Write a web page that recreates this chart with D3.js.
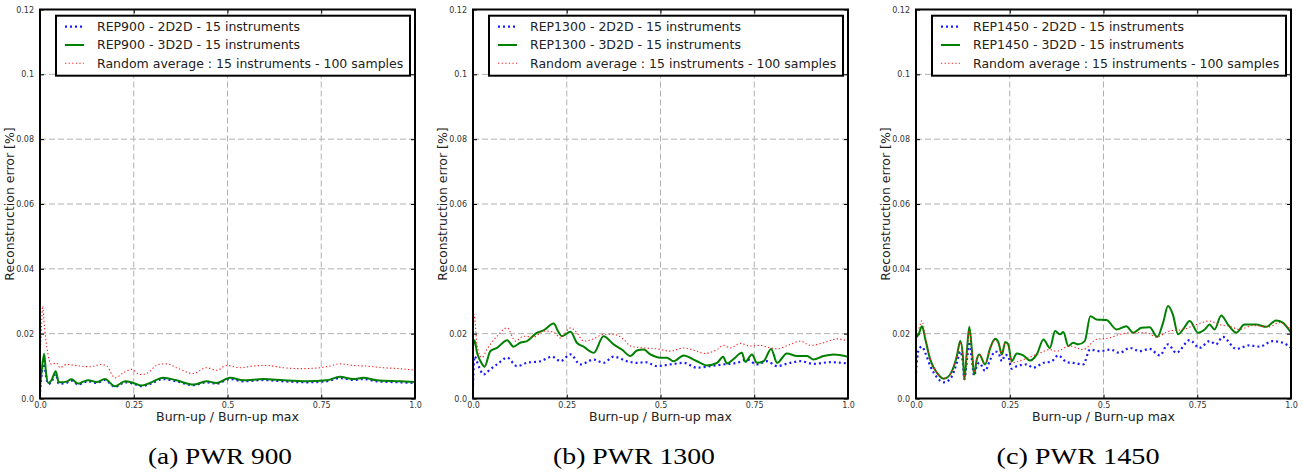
<!DOCTYPE html>
<html><head><meta charset="utf-8">
<script src="https://cdn.jsdelivr.net/npm/d3@7"></script>
<style>
html,body{margin:0;padding:0;background:#fff;}
svg{display:block;}
</style></head>
<body>
<svg id="chart" width="1303" height="475"></svg>
<script>
// ---------------- DATA ----------------
const xTicks = [0, 0.25, 0.5, 0.75, 1.0];
const xTickLabels = ["0.0", "0.25", "0.5", "0.75", "1.0"];
const yTicks = [0, 0.02, 0.04, 0.06, 0.08, 0.1, 0.12];
const yTickLabels = ["0.0", "0.02", "0.04", "0.06", "0.08", "0.1", "0.12"];
const reactors = ["REP900", "REP1300", "REP1450"];
const captions = ["(a) PWR 900", "(b) PWR 1300", "(c) PWR 1450"];
const seriesSuffix = [" - 2D2D - 15 instruments", " - 3D2D - 15 instruments"];
const randomLabel = "Random average : 15 instruments - 100 samples";
const xAxisLabel = "Burn-up / Burn-up max";
const yAxisLabel = "Reconstruction error [%]";

// [burn-up fraction, error]
const rep900_2d2d = [[0,0.002],[0.005,0.008],[0.011,0.0115],[0.016,0.007],[0.022,0.0045],[0.03,0.005],[0.042,0.0075],[0.05,0.0046],[0.058,0.0046],[0.07,0.0048],[0.084,0.0055],[0.102,0.0043],[0.115,0.0049],[0.129,0.0053],[0.151,0.0048],[0.173,0.0057],[0.2,0.0036],[0.227,0.005],[0.249,0.0046],[0.271,0.0038],[0.293,0.0045],[0.329,0.006],[0.364,0.0053],[0.409,0.0041],[0.444,0.005],[0.471,0.0046],[0.507,0.006],[0.542,0.0053],[0.596,0.0057],[0.649,0.0053],[0.711,0.005],[0.764,0.0053],[0.8,0.0063],[0.836,0.0057],[0.862,0.006],[0.898,0.0053],[0.96,0.005],[1,0.0048]];
const rep900_3d2d = [[0,0.004],[0.005,0.009],[0.011,0.0138],[0.016,0.008],[0.022,0.0048],[0.03,0.0055],[0.042,0.0084],[0.05,0.005],[0.058,0.005],[0.07,0.0052],[0.084,0.0059],[0.102,0.0046],[0.115,0.0052],[0.129,0.0056],[0.151,0.0051],[0.173,0.006],[0.2,0.0038],[0.227,0.0053],[0.249,0.0048],[0.271,0.004],[0.293,0.0048],[0.329,0.0064],[0.364,0.0056],[0.409,0.0043],[0.444,0.0053],[0.471,0.0048],[0.507,0.0064],[0.542,0.0056],[0.596,0.006],[0.649,0.0056],[0.711,0.0053],[0.764,0.0056],[0.8,0.0067],[0.836,0.006],[0.862,0.0064],[0.898,0.0056],[0.96,0.0053],[1,0.0051]];
const rep900_random = [[0,0.012],[0.004,0.022],[0.007,0.0285],[0.012,0.022],[0.018,0.016],[0.031,0.0105],[0.044,0.011],[0.053,0.0095],[0.071,0.0105],[0.107,0.01],[0.133,0.0098],[0.164,0.0105],[0.178,0.01],[0.2,0.0064],[0.222,0.0079],[0.244,0.009],[0.267,0.0074],[0.284,0.0077],[0.316,0.0105],[0.338,0.0107],[0.364,0.0095],[0.409,0.0077],[0.444,0.0095],[0.471,0.0087],[0.498,0.0102],[0.533,0.0095],[0.569,0.01],[0.604,0.0102],[0.649,0.0095],[0.693,0.0092],[0.738,0.0094],[0.773,0.01],[0.8,0.0107],[0.836,0.0102],[0.871,0.01],[0.916,0.0095],[0.96,0.0092],[1,0.0087]];

const rep1300_2d2d = [[0,0.004],[0.004,0.013],[0.015,0.01],[0.028,0.0074],[0.046,0.009],[0.064,0.0105],[0.091,0.0126],[0.117,0.01],[0.144,0.011],[0.18,0.0115],[0.211,0.0129],[0.233,0.0115],[0.26,0.0136],[0.286,0.0105],[0.322,0.012],[0.348,0.011],[0.375,0.0129],[0.411,0.0115],[0.437,0.011],[0.46,0.0112],[0.491,0.01],[0.526,0.0105],[0.562,0.011],[0.597,0.0095],[0.633,0.01],[0.668,0.0105],[0.704,0.011],[0.731,0.012],[0.757,0.0105],[0.784,0.0115],[0.811,0.01],[0.846,0.011],[0.873,0.0115],[0.908,0.0107],[0.953,0.0112],[1,0.0108]];
const rep1300_3d2d = [[0,0.016],[0.004,0.018],[0.011,0.014],[0.02,0.0115],[0.031,0.0098],[0.046,0.0146],[0.064,0.0156],[0.091,0.018],[0.108,0.016],[0.126,0.0172],[0.144,0.0177],[0.171,0.0203],[0.188,0.021],[0.215,0.0231],[0.228,0.0205],[0.237,0.0192],[0.26,0.0206],[0.277,0.0172],[0.295,0.016],[0.322,0.0141],[0.348,0.0192],[0.375,0.0167],[0.397,0.0151],[0.42,0.0131],[0.437,0.0148],[0.455,0.0151],[0.473,0.0136],[0.5,0.0126],[0.517,0.0126],[0.535,0.0115],[0.562,0.0133],[0.588,0.012],[0.606,0.011],[0.624,0.0102],[0.651,0.011],[0.667,0.0129],[0.677,0.0108],[0.695,0.0122],[0.717,0.0141],[0.726,0.0113],[0.744,0.0136],[0.757,0.011],[0.775,0.0115],[0.795,0.0153],[0.811,0.011],[0.837,0.0139],[0.864,0.0131],[0.891,0.0131],[0.908,0.012],[0.935,0.0131],[0.962,0.0136],[1,0.0129]];
const rep1300_random = [[0,0.018],[0.003,0.026],[0.011,0.0162],[0.024,0.0126],[0.037,0.0151],[0.064,0.0192],[0.091,0.0218],[0.113,0.0177],[0.135,0.0192],[0.162,0.019],[0.188,0.0208],[0.215,0.0205],[0.233,0.0187],[0.26,0.0218],[0.277,0.0203],[0.295,0.0177],[0.322,0.0184],[0.348,0.0198],[0.375,0.0198],[0.402,0.0182],[0.42,0.0162],[0.455,0.0156],[0.491,0.0153],[0.526,0.0146],[0.562,0.0156],[0.597,0.0146],[0.615,0.0139],[0.651,0.0151],[0.668,0.0164],[0.686,0.0156],[0.713,0.017],[0.74,0.0162],[0.766,0.0164],[0.793,0.0156],[0.811,0.0153],[0.846,0.0167],[0.873,0.0177],[0.9,0.0164],[0.935,0.0172],[0.971,0.0184],[1,0.0177]];

const rep1450_2d2d = [[0,0.008],[0.007,0.0151],[0.016,0.016],[0.025,0.014],[0.038,0.01],[0.056,0.0065],[0.074,0.005],[0.091,0.006],[0.109,0.011],[0.118,0.0145],[0.125,0.011],[0.129,0.006],[0.136,0.012],[0.142,0.0175],[0.149,0.012],[0.155,0.007],[0.162,0.01],[0.169,0.011],[0.184,0.0085],[0.198,0.012],[0.211,0.0145],[0.22,0.014],[0.229,0.0115],[0.238,0.0135],[0.246,0.013],[0.255,0.0092],[0.269,0.01],[0.295,0.0105],[0.313,0.0095],[0.34,0.011],[0.362,0.0115],[0.379,0.0133],[0.402,0.0112],[0.419,0.011],[0.446,0.0105],[0.464,0.0151],[0.49,0.0146],[0.517,0.0151],[0.543,0.0141],[0.57,0.0156],[0.597,0.0146],[0.623,0.0153],[0.65,0.0133],[0.672,0.0167],[0.694,0.0141],[0.73,0.018],[0.756,0.0156],[0.783,0.0177],[0.8,0.0167],[0.818,0.019],[0.854,0.0153],[0.889,0.0164],[0.916,0.016],[0.951,0.0177],[0.978,0.0172],[1,0.0156]];
const rep1450_3d2d = [[0,0.0187],[0.007,0.0198],[0.016,0.0223],[0.025,0.0182],[0.038,0.012],[0.056,0.0079],[0.074,0.0061],[0.091,0.0074],[0.109,0.0131],[0.118,0.0177],[0.125,0.0131],[0.129,0.0059],[0.136,0.0151],[0.142,0.0221],[0.149,0.0151],[0.155,0.0074],[0.162,0.012],[0.169,0.0136],[0.184,0.0105],[0.198,0.0156],[0.211,0.0184],[0.22,0.0172],[0.229,0.0136],[0.238,0.0174],[0.246,0.0167],[0.255,0.0115],[0.269,0.0139],[0.286,0.0133],[0.304,0.0117],[0.322,0.0136],[0.34,0.0182],[0.357,0.0156],[0.371,0.0208],[0.384,0.0198],[0.393,0.0205],[0.406,0.0162],[0.419,0.0172],[0.433,0.0167],[0.45,0.0177],[0.465,0.0254],[0.481,0.0244],[0.508,0.0242],[0.535,0.0213],[0.561,0.0223],[0.579,0.0203],[0.601,0.0218],[0.623,0.022],[0.643,0.019],[0.659,0.0234],[0.672,0.0285],[0.685,0.0259],[0.699,0.0198],[0.712,0.0213],[0.73,0.0239],[0.752,0.0203],[0.77,0.0213],[0.783,0.0228],[0.796,0.0213],[0.814,0.0256],[0.832,0.0228],[0.854,0.0203],[0.876,0.0228],[0.907,0.0228],[0.934,0.0221],[0.96,0.0241],[0.978,0.0234],[1,0.0203]];
const rep1450_random = [[0,0.021],[0.007,0.0215],[0.016,0.024],[0.025,0.019],[0.038,0.0125],[0.056,0.008],[0.074,0.0063],[0.091,0.0075],[0.109,0.013],[0.118,0.017],[0.125,0.013],[0.129,0.006],[0.136,0.015],[0.142,0.021],[0.149,0.015],[0.155,0.008],[0.162,0.012],[0.169,0.0135],[0.184,0.0105],[0.198,0.0155],[0.211,0.018],[0.22,0.017],[0.229,0.0135],[0.238,0.017],[0.246,0.0165],[0.255,0.011],[0.286,0.012],[0.322,0.0136],[0.357,0.0151],[0.375,0.0146],[0.41,0.0162],[0.446,0.0151],[0.481,0.0182],[0.517,0.0187],[0.543,0.0198],[0.579,0.0203],[0.614,0.0203],[0.641,0.019],[0.676,0.0208],[0.712,0.0213],[0.747,0.0228],[0.783,0.0239],[0.809,0.0228],[0.836,0.0223],[0.863,0.0213],[0.898,0.0225],[0.942,0.0221],[0.969,0.0234],[1,0.0213]];

// ---------------- LAYOUT ----------------
const panelData = [
  [rep900_2d2d, rep900_3d2d, rep900_random],
  [rep1300_2d2d, rep1300_3d2d, rep1300_random],
  [rep1450_2d2d, rep1450_3d2d, rep1450_random]
];
const panelLeft = [40, 473, 916];
const plotW = 375;
const plotTop = 9.5, plotBottom = 398.5;
const captionX = [220, 634, 1078];
const captionW = [144, 162, 163];

const styles = [
  {stroke: "#1a1aff", width: 2.2, dash: "2,3"},
  {stroke: "#008000", width: 2, dash: null},
  {stroke: "#ff2020", width: 1.1, dash: "1.3,2.3"}
];

const svg = d3.select("#chart");
const sans = "DejaVu Sans, sans-serif";

panelData.forEach((series, i) => {
  const x0 = panelLeft[i], x1 = x0 + plotW;
  const x = d3.scaleLinear().domain([0, 1]).range([x0, x1]);
  const y = d3.scaleLinear().domain([0, 0.12]).range([plotBottom, plotTop]);
  const g = svg.append("g");

  g.append("clipPath").attr("id", "clip" + i)
    .append("rect").attr("x", x0).attr("y", plotTop).attr("width", plotW).attr("height", plotBottom - plotTop);

  // grid
  g.append("g").selectAll("line").data(xTicks.slice(1, -1)).join("line")
    .attr("x1", d => x(d)).attr("x2", d => x(d)).attr("y1", plotTop).attr("y2", plotBottom)
    .attr("stroke", "#b0b0b0").attr("stroke-width", 1).attr("stroke-dasharray", "6,3");
  g.append("g").selectAll("line").data(yTicks.slice(1, -1)).join("line")
    .attr("x1", x0).attr("x2", x1).attr("y1", d => y(d)).attr("y2", d => y(d))
    .attr("stroke", "#b0b0b0").attr("stroke-width", 1).attr("stroke-dasharray", "6,3");

  // axes via d3 axis (ticks inside)
  const xAxis = d3.axisBottom(x).tickValues(xTicks).tickFormat((d, k) => xTickLabels[k]).tickSizeInner(-4).tickSizeOuter(0).tickPadding(8);
  const yAxis = d3.axisLeft(y).tickValues(yTicks).tickFormat((d, k) => yTickLabels[k]).tickSizeInner(-4).tickSizeOuter(0).tickPadding(6);
  const gx = g.append("g").attr("transform", `translate(0,${plotBottom})`).call(xAxis);
  const gy = g.append("g").attr("transform", `translate(${x0},0)`).call(yAxis);
  [gx, gy].forEach(a => {
    a.select(".domain").remove();
    a.selectAll("text").attr("font-family", sans).attr("font-size", 8).attr("fill", "#333");
    a.selectAll("line").attr("stroke", "#000").attr("stroke-width", 1);
  });
  gx.selectAll("text").attr("dy", "0.35em").attr("y", 7);
  // top/right ticks
  g.append("g").call(d3.axisTop(x).tickValues(xTicks).tickSizeInner(-4).tickSizeOuter(0).tickFormat(""))
    .attr("transform", `translate(0,${plotTop})`).call(a => a.select(".domain").remove());
  g.append("g").call(d3.axisRight(y).tickValues(yTicks).tickSizeInner(-4).tickSizeOuter(0).tickFormat(""))
    .attr("transform", `translate(${x1},0)`).call(a => a.select(".domain").remove());

  // lines
  const line = d3.line().x(d => x(d[0])).y(d => y(d[1])).curve(d3.curveMonotoneX);
  const lg = g.append("g").attr("clip-path", `url(#clip${i})`);
  series.forEach((s, k) => {
    lg.append("path").datum(s).attr("d", line).attr("fill", "none")
      .attr("stroke", styles[k].stroke).attr("stroke-width", styles[k].width)
      .attr("stroke-dasharray", styles[k].dash).attr("stroke-linejoin", "round");
  });

  // frame
  g.append("rect").attr("x", x0).attr("y", plotTop).attr("width", plotW).attr("height", plotBottom - plotTop)
    .attr("fill", "none").attr("stroke", "#000").attr("stroke-width", 2);

  // legend
  const lx = x0 + 16, ly = 15.7, lw = plotW - 21, lh = 60;
  const leg = g.append("g");
  leg.append("rect").attr("x", lx).attr("y", ly).attr("width", lw).attr("height", lh)
    .attr("fill", "#fff").attr("stroke", "#000").attr("stroke-width", 2);
  const labels = [reactors[i] + seriesSuffix[0], reactors[i] + seriesSuffix[1], randomLabel];
  labels.forEach((t, k) => {
    const cy = 26.7 + k * 18.3;
    leg.append("line").attr("x1", lx + 9).attr("x2", lx + 28).attr("y1", cy).attr("y2", cy)
      .attr("stroke", styles[k].stroke).attr("stroke-width", styles[k].width)
      .attr("stroke-dasharray", styles[k].dash);
    leg.append("text").attr("x", lx + 41).attr("y", cy).attr("dy", "0.35em")
      .attr("font-family", sans).attr("font-size", 12.5).attr("fill", "#222").text(t);
  });

  // axis labels
  g.append("text").attr("x", (x0 + x1) / 2).attr("y", 417).attr("dy", "0.35em")
    .attr("text-anchor", "middle").attr("font-family", sans).attr("font-size", 12.5).attr("fill", "#222")
    .text(xAxisLabel);
  g.append("text").attr("transform", `translate(${x0 - 30},${(plotTop + plotBottom) / 2}) rotate(-90)`)
    .attr("dy", "0.35em").attr("text-anchor", "middle").attr("font-family", sans).attr("font-size", 12.5).attr("fill", "#222")
    .text(yAxisLabel);

  // caption
  svg.append("text").attr("x", captionX[i]).attr("y", 463.5).attr("text-anchor", "middle")
    .attr("font-family", "Liberation Serif, serif").attr("font-size", 23).attr("fill", "#000")
    .attr("textLength", captionW[i]).attr("lengthAdjust", "spacingAndGlyphs")
    .text(captions[i]);
});
</script>
</body></html>
